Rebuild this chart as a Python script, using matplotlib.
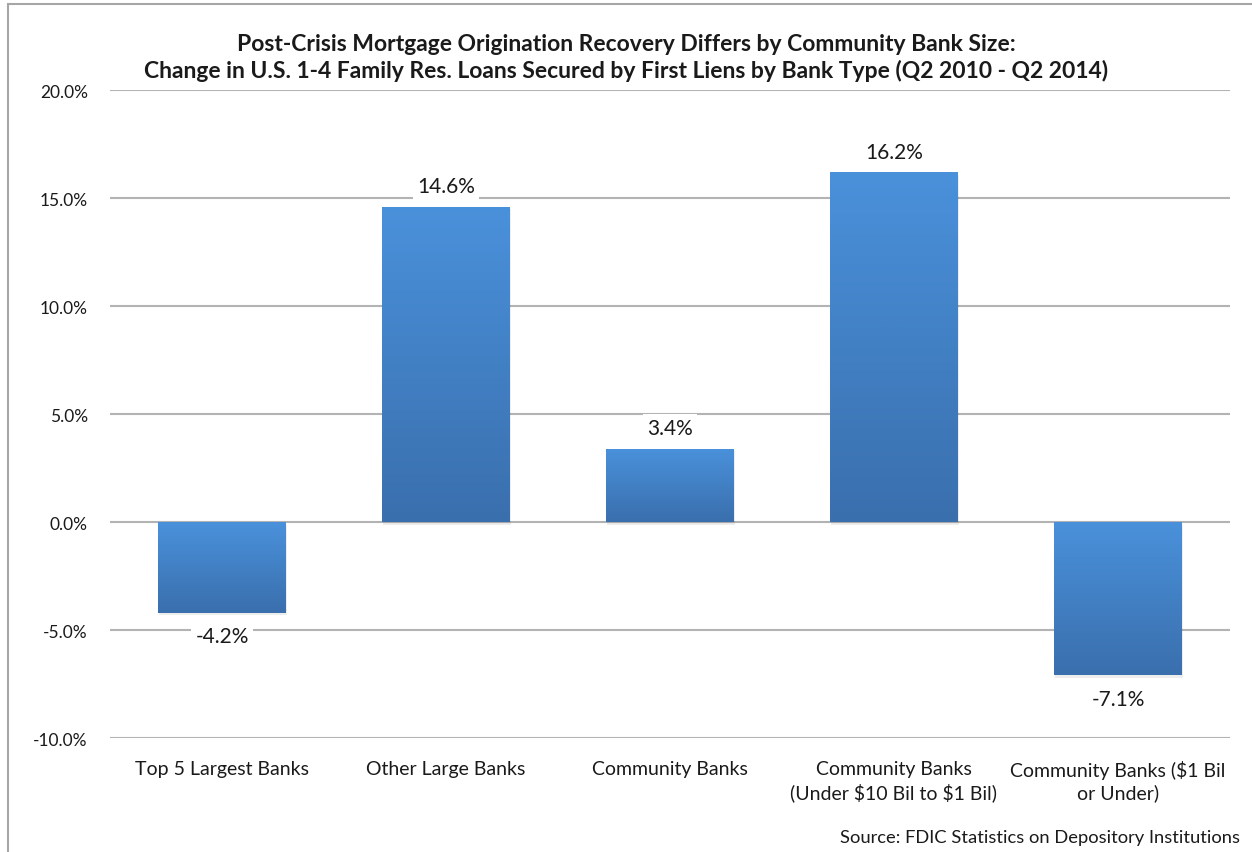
import numpy as np
import matplotlib
matplotlib.use("Agg")
import matplotlib.pyplot as plt
from matplotlib.patches import Rectangle
from matplotlib.colors import LinearSegmentedColormap

# Données
categories = ["Top 5 Largest Banks", "Other Large Banks", "Community Banks",
              "Community Banks\n(Under \\$10 Bil to \\$1 Bil)",
              "Community Banks (\\$1 Bil\nor Under)"]
values = [-4.2, 14.6, 3.4, 16.2, -7.1]
y_ticks = [-10, -5, 0, 5, 10, 15, 20]

title = ("Post-Crisis Mortgage Origination Recovery Differs by Community Bank Size:\n"
         "Change in U.S. 1-4 Family Res. Loans Secured by First Liens by Bank Type (Q2 2010 - Q2 2014)")
source = "Source: FDIC Statistics on Depository Institutions"

plt.rcParams['font.family'] = ['Lato', 'DejaVu Sans']

_COL_TOP = "#4A91DB"
_COL_BOT = "#3A6FAD"
_COL_GRID = "#B3B3B3"
cmap = LinearSegmentedColormap.from_list("bar", [_COL_BOT, _COL_TOP])

fig = plt.figure(figsize=(12.52, 8.53), dpi=100)
ax = fig.add_axes([110 / 1252, 1 - 739 / 853, 1120 / 1252, 648 / 853])

# cadre gris autour du graphique
fig.patches.append(Rectangle((8 / 1252, -0.1), 1.2, 1 - 5 / 853 + 0.1,
                             transform=fig.transFigure, fill=False,
                             ec="#A6A6A6", lw=1.5))

x = np.arange(len(categories))
width = 0.57
ax.set_xlim(-0.5, len(categories) - 0.5)
ax.set_ylim(-10, 20)

grad = np.linspace(0, 1, 256).reshape(-1, 1)
for xi, v in zip(x, values):
    y0, y1 = min(0, v), max(0, v)
    # ombre légère
    sh = Rectangle((xi - width / 2 + 0.004, y0 - 0.12), width, y1 - y0,
                   fc="#000000", alpha=0.07, ec="none", zorder=2)
    ax.add_patch(sh)
    rect = Rectangle((xi - width / 2, y0), width, y1 - y0, fc="none", ec="none", zorder=3)
    ax.add_patch(rect)
    im = ax.imshow(grad, cmap=cmap, origin="lower", aspect="auto",
                   extent=[xi - width / 2, xi + width / 2, y0, y1], zorder=3)
    im.set_clip_path(rect)
    # étiquette
    off = 0.95 if v > 0 else -1.1
    ax.text(xi, v + off, f"{v:.1f}%", ha="center", va="center", fontsize=15,
            color="#1A1A1A", zorder=5,
            bbox=dict(fc="white", ec="none", pad=3))

ax.set_yticks(y_ticks)
ax.set_yticklabels([f"{t:.1f}%" for t in y_ticks], fontsize=12.5)
ax.set_xticks(x)
ax.set_xticklabels(categories, fontsize=14, linespacing=1.3)
ax.tick_params(axis="both", length=0, colors="#1A1A1A")
ax.tick_params(axis="x", pad=16)
ax.tick_params(axis="y", pad=16)
ax.grid(axis="y", color=_COL_GRID, lw=1.5, zorder=0)
ax.set_axisbelow(True)
for s in ax.spines.values():
    s.set_visible(False)

fig.text(0.5, 1 - 58 / 853, title, ha="center", va="center", fontsize=16.5,
         fontweight="bold", linespacing=1.3, color="#1A1A1A")
fig.text(1240 / 1252, 1 - 838 / 853, source, ha="right", va="center",
         fontsize=13.2, color="#1A1A1A")

fig.savefig("out.png", dpi=100)
